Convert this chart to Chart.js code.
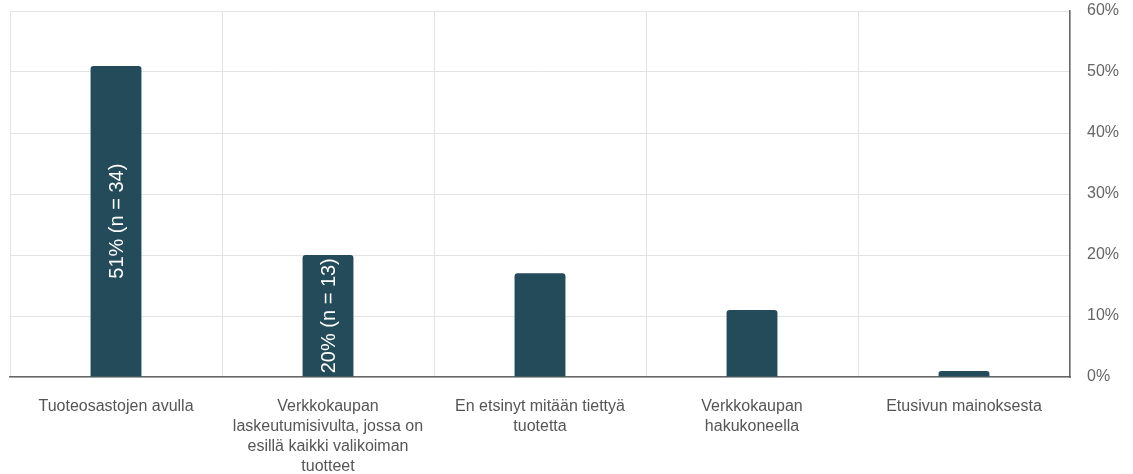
<!DOCTYPE html>
<html><head><meta charset="utf-8">
<script src="https://cdn.jsdelivr.net/npm/chart.js@4/dist/chart.umd.min.js"></script>
<style>html,body{margin:0;padding:0;background:#fff}#wrap{width:1133px;height:474px}</style>
</head><body><div id="wrap"><canvas id="c" width="1133" height="474"></canvas></div>
<script>
const categories = [
  ["Tuoteosastojen avulla"],
  ["Verkkokaupan", "laskeutumisivulta, jossa on", "esillä kaikki valikoiman", "tuotteet"],
  ["En etsinyt mitään tiettyä", "tuotetta"],
  ["Verkkokaupan", "hakukoneella"],
  ["Etusivun mainoksesta"]
];
const percents = [51, 20, 17, 11, 1];
const counts = [34, 13, 11, 7, 1];
const yTicks = [0, 10, 20, 30, 40, 50, 60];

const FONT = '"Liberation Sans", Arial, sans-serif';

const labelPlugin = {
  id: 'barLabels',
  afterDatasetsDraw(chart) {
    const ctx = chart.ctx;
    const meta = chart.getDatasetMeta(0);
    meta.data.forEach((bar, i) => {
      const text = percents[i] + '% (n = ' + counts[i] + ')';
      ctx.save();
      ctx.font = '20px ' + FONT;
      const w = ctx.measureText(text).width;
      const h = bar.base - bar.y;
      if (w + 4 > h) { ctx.restore(); return; }
      ctx.translate(bar.x, (bar.y + bar.base) / 2);
      ctx.rotate(-Math.PI / 2);
      ctx.fillStyle = '#ffffff';
      ctx.textAlign = 'center';
      ctx.textBaseline = 'middle';
      ctx.fillText(text, 0, 1);
      ctx.restore();
    });
  }
};

new Chart(document.getElementById('c'), {
  type: 'bar',
  data: {
    labels: categories,
    datasets: [{
      data: percents,
      backgroundColor: '#234b5a',
      borderRadius: {topLeft: 3, topRight: 3},
      borderSkipped: 'bottom',
      barPercentage: 0.48,
      categoryPercentage: 0.5
    }]
  },
  options: {
    responsive: false,
    animation: false,
    layout: { padding: { left: 10, top: 11, right: 0, bottom: 0 } },
    plugins: { legend: { display: false }, tooltip: { enabled: false } },
    scales: {
      x: {
        afterFit(s) { s.height = 97; },
        grid: { color: '#e3e3e3', offset: true, drawTicks: false },
        border: { color: '#666666', width: 1.5 },
        ticks: { color: '#555555', font: { size: 16, family: FONT, lineHeight: 1.25 }, padding: 20, maxRotation: 0, autoSkip: false }
      },
      y: {
        position: 'right',
        min: 0, max: 60,
        afterFit(s) { s.width = 63; s.paddingTop = 4; s.paddingBottom = 4; },
        afterBuildTicks(axis) { axis.ticks = yTicks.map(v => ({ value: v })); },
        grid: { color: '#e3e3e3', drawTicks: false },
        border: { color: '#666666', width: 1.5 },
        ticks: { color: '#666666', font: { size: 16, family: FONT }, padding: 17, callback: v => v + '%' }
      }
    }
  },
  plugins: [labelPlugin]
});
</script>
</body></html>
